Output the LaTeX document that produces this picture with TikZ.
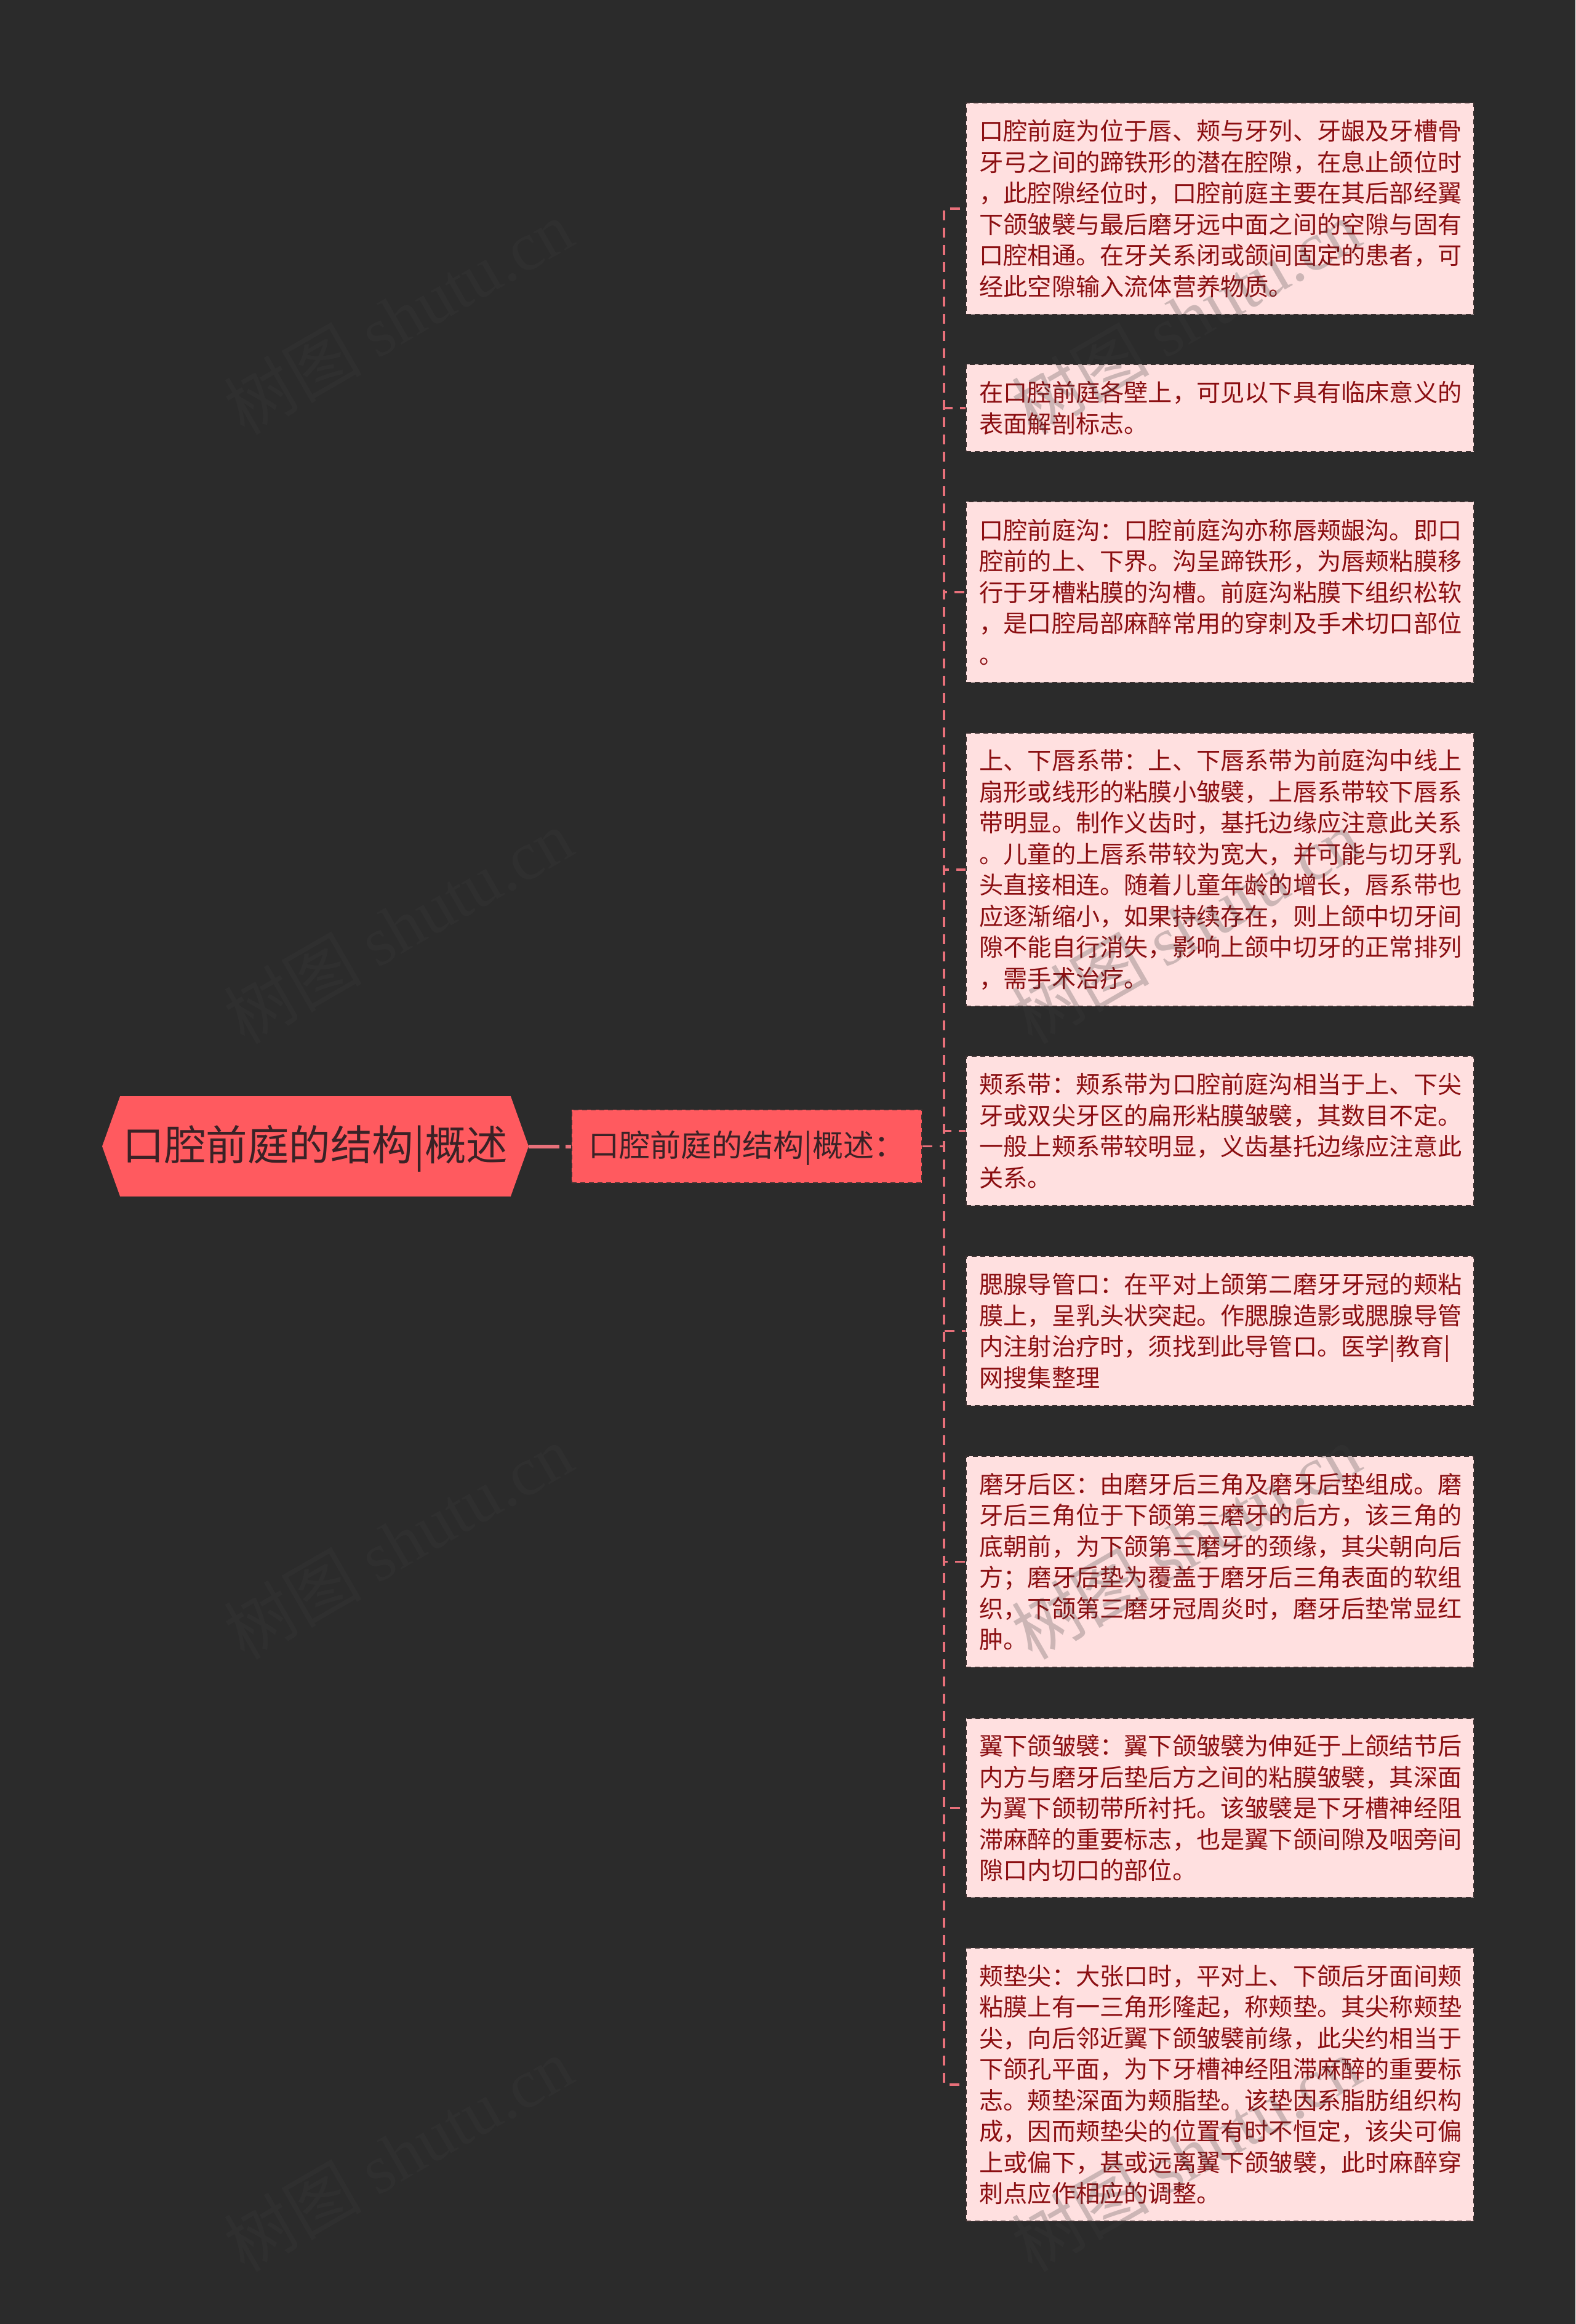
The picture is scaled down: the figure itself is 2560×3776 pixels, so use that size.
\documentclass[tikz,border=0pt]{standalone}
\usepackage{fontspec}
\usepackage{xcolor}
\setmainfont{Noto Sans CJK SC}
\newfontfamily\markserif{Liberation Serif}
\usetikzlibrary{shapes.symbols}

\definecolor{pagebg}{HTML}{2B2B2B}
\definecolor{rootred}{HTML}{FF5A5F}
\definecolor{rootink}{HTML}{3A2226}
\definecolor{leafpink}{HTML}{FFE0E0}
\definecolor{leafink}{HTML}{8B0F12}
\definecolor{leafedge}{HTML}{3A3030}
\definecolor{linkred}{HTML}{E8707A}
\definecolor{markgray}{HTML}{3C3C3C}

\tikzset{
  rootnode/.style={signal,signal to=west and east,signal pointer angle=140.6,fill=rootred,text=rootink,
    minimum width=693pt,minimum height=163pt,inner sep=0pt,text height=54pt,text depth=8pt,font=\fontsize{67.5}{78}\selectfont},
  secnode/.style={rectangle,fill=rootred,text=rootink,draw=leafedge,line width=2pt,dash pattern=on 8pt off 6pt,
    minimum width=569pt,minimum height=119pt,inner sep=0pt,text height=40pt,text depth=7pt,font=\fontsize{50}{60}\selectfont},
  leaf/.style={rectangle,anchor=north west,fill=leafpink,text=leafink,draw=leafedge,line width=2pt,dash pattern=on 8pt off 6pt,
    text width=782pt,inner xsep=21.5pt,inner ysep=0pt,align=left,font=\fontsize{39.2}{50.5}\selectfont},
  link/.style={draw=linkred,line width=3.5pt,dash pattern=on 16pt off 12pt},
  rootlink/.style={draw=linkred,line width=6pt,dash pattern=on 50pt off 10pt},
  wmark/.style={rotate=30,text=markgray,text opacity=.26,inner sep=0pt,font=\fontsize{112}{120}\selectfont},
}
\newcommand{\shutumark}{树图 {\markserif shutu.cn}}
\newcommand{\dou}{\char"FF0C\relax}
\newcommand{\mao}{\char"FF1A\relax}
\newcommand{\fen}{\char"FF1B\relax}

\begin{document}
\begin{tikzpicture}[x=1pt,y=-1pt]
\path[use as bounding box,fill=pagebg] (0,0) rectangle (2560,3776);
% root and second level
\node[rootnode] (root) at (512.5,1862.5) {口腔前庭的结构|概述};
\node[secnode] (sec) at (1213.5,1862.5) {口腔前庭的结构|概述\mao{}};
\coordinate (spine) at (1534,1862.5);
% leaves
\node[leaf,minimum height=344pt] (vestibule) at (1569,166) {口腔前庭为位于唇、颊与牙列、牙龈及牙槽骨\\牙弓之间的蹄铁形的潜在腔隙\dou{}在息止颌位时\\\dou{}此腔隙经位时\dou{}口腔前庭主要在其后部经翼\\下颌皱襞与最后磨牙远中面之间的空隙与固有\\口腔相通。在牙关系闭或颌间固定的患者\dou{}可\\经此空隙输入流体营养物质。};
\node[leaf,minimum height=142pt] (walls) at (1569,591) {在口腔前庭各壁上\dou{}可见以下具有临床意义的\\表面解剖标志。};
\node[leaf,minimum height=294pt] (groove) at (1569,814) {口腔前庭沟\mao{}口腔前庭沟亦称唇颊龈沟。即口\\腔前的上、下界。沟呈蹄铁形\dou{}为唇颊粘膜移\\行于牙槽粘膜的沟槽。前庭沟粘膜下组织松软\\\dou{}是口腔局部麻醉常用的穿刺及手术切口部位\\。};
\node[leaf,minimum height=444pt] (labial) at (1569,1190) {上、下唇系带\mao{}上、下唇系带为前庭沟中线上\\扇形或线形的粘膜小皱襞\dou{}上唇系带较下唇系\\带明显。制作义齿时\dou{}基托边缘应注意此关系\\。儿童的上唇系带较为宽大\dou{}并可能与切牙乳\\头直接相连。随着儿童年龄的增长\dou{}唇系带也\\应逐渐缩小\dou{}如果持续存在\dou{}则上颌中切牙间\\隙不能自行消失\dou{}影响上颌中切牙的正常排列\\\dou{}需手术治疗。};
\node[leaf,minimum height=243pt] (buccal) at (1569,1715) {颊系带\mao{}颊系带为口腔前庭沟相当于上、下尖\\牙或双尖牙区的扁形粘膜皱襞\dou{}其数目不定。\\一般上颊系带较明显\dou{}义齿基托边缘应注意此\\关系。};
\node[leaf,minimum height=243pt] (parotid) at (1569,2040) {腮腺导管口\mao{}在平对上颌第二磨牙牙冠的颊粘\\膜上\dou{}呈乳头状突起。作腮腺造影或腮腺导管\\内注射治疗时\dou{}须找到此导管口。医学|教育|\\网搜集整理};
\node[leaf,minimum height=343pt] (retromolar) at (1569,2365) {磨牙后区\mao{}由磨牙后三角及磨牙后垫组成。磨\\牙后三角位于下颌第三磨牙的后方\dou{}该三角的\\底朝前\dou{}为下颌第三磨牙的颈缘\dou{}其尖朝向后\\方\fen{}磨牙后垫为覆盖于磨牙后三角表面的软组\\织\dou{}下颌第三磨牙冠周炎时\dou{}磨牙后垫常显红\\肿。};
\node[leaf,minimum height=291pt] (fold) at (1569,2791) {翼下颌皱襞\mao{}翼下颌皱襞为伸延于上颌结节后\\内方与磨牙后垫后方之间的粘膜皱襞\dou{}其深面\\为翼下颌韧带所衬托。该皱襞是下牙槽神经阻\\滞麻醉的重要标志\dou{}也是翼下颌间隙及咽旁间\\隙口内切口的部位。};
\node[leaf,minimum height=444pt] (padtip) at (1569,3164) {颊垫尖\mao{}大张口时\dou{}平对上、下颌后牙面间颊\\粘膜上有一三角形隆起\dou{}称颊垫。其尖称颊垫\\尖\dou{}向后邻近翼下颌皱襞前缘\dou{}此尖约相当于\\下颌孔平面\dou{}为下牙槽神经阻滞麻醉的重要标\\志。颊垫深面为颊脂垫。该垫因系脂肪组织构\\成\dou{}因而颊垫尖的位置有时不恒定\dou{}该尖可偏\\上或偏下\dou{}甚或远离翼下颌皱襞\dou{}此时麻醉穿\\刺点应作相应的调整。};
% connectors
\draw[rootlink] (root.east) -- (sec.west);
\draw[link] (sec.east) -- (spine) |- (vestibule.west);
\draw[link] (sec.east) -- (spine) |- (walls.west);
\draw[link] (sec.east) -- (spine) |- (groove.west);
\draw[link] (sec.east) -- (spine) |- (labial.west);
\draw[link] (sec.east) -- (spine) |- (buccal.west);
\draw[link] (sec.east) -- (spine) |- (parotid.west);
\draw[link] (sec.east) -- (spine) |- (retromolar.west);
\draw[link] (sec.east) -- (spine) |- (fold.west);
\draw[link] (sec.east) -- (spine) |- (padtip.west);
% watermark
\node[wmark] (markA) at (647,515) {\shutumark};
\node[wmark] (markB) at (1927,515) {\shutumark};
\node[wmark] (markC) at (647,1505) {\shutumark};
\node[wmark] (markD) at (1927,1505) {\shutumark};
\node[wmark] (markE) at (647,2505) {\shutumark};
\node[wmark] (markF) at (1927,2505) {\shutumark};
\node[wmark] (markG) at (647,3500) {\shutumark};
\node[wmark] (markH) at (1927,3500) {\shutumark};
\end{tikzpicture}
\end{document}
